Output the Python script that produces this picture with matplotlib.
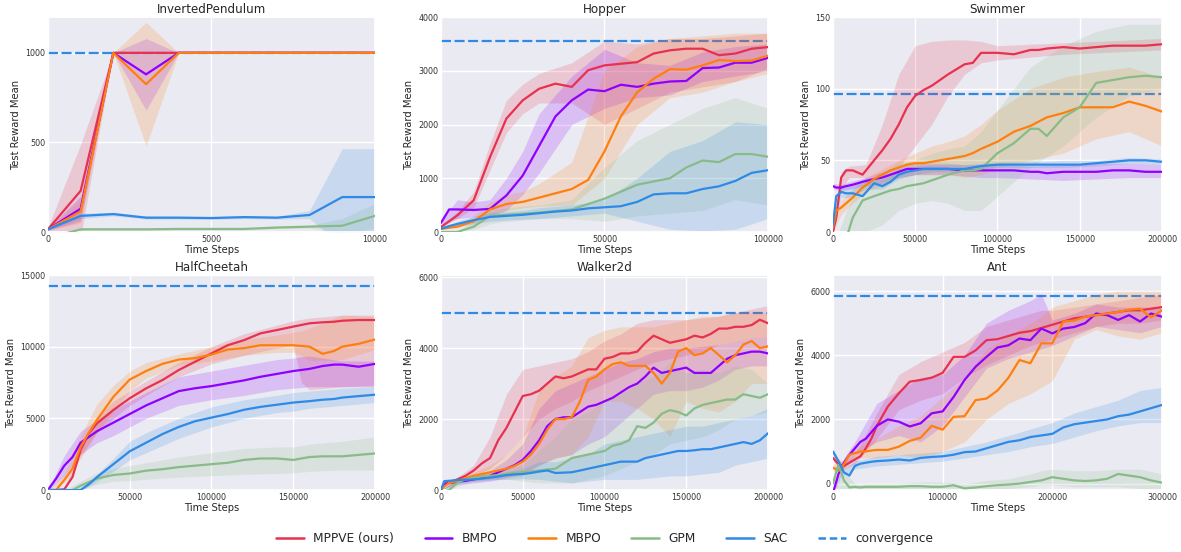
import matplotlib
matplotlib.use("Agg")
import matplotlib.pyplot as plt
import matplotlib.lines as mlines
import seaborn as sns

sns.set_theme(style="darkgrid")
plt.rcParams["font.family"] = ["DejaVu Sans"]

# ---------------------------------------------------------------------------
# Styles
# ---------------------------------------------------------------------------
METHODS = ["MPPVE", "BMPO", "MBPO", "GPM", "SAC"]
LABELS = {"MPPVE": "MPPVE (ours)", "BMPO": "BMPO", "MBPO": "MBPO",
          "GPM": "GPM", "SAC": "SAC"}
COLORS = {"MPPVE": "#E8304F", "BMPO": "#8F00FF", "MBPO": "#FF7F0E",
          "GPM": "#88BB88", "SAC": "#2E8AE6"}
CONV_COLOR = "#2E8AE6"

# ---------------------------------------------------------------------------
# Data: InvertedPendulum
# ---------------------------------------------------------------------------
IP_X = [0, 1000, 2000, 3000, 4000, 5000, 6000, 7000, 8000, 9000, 10000]
IP_MEAN = {
    "MPPVE": [15, 230, 1000, 1000, 1000, 1000, 1000, 1000, 1000, 1000, 1000],
    "BMPO":  [15, 130, 1000, 880, 1000, 1000, 1000, 1000, 1000, 1000, 1000],
    "MBPO":  [15, 115, 1000, 825, 1000, 1000, 1000, 1000, 1000, 1000, 1000],
    "GPM":   [-35, 15, 15, 15, 17, 17, 17, 25, 30, 35, 90],
    "SAC":   [15, 90, 100, 80, 80, 78, 83, 80, 95, 195, 195],
}
IP_LO = {
    "MPPVE": [5, -30, 1000, 1000, 1000, 1000, 1000, 1000, 1000, 1000, 1000],
    "BMPO":  [10, 60, 1000, 680, 1000, 1000, 1000, 1000, 1000, 1000, 1000],
    "MBPO":  [10, 50, 1000, 480, 1000, 1000, 1000, 1000, 1000, 1000, 1000],
    "GPM":   [-45, 10, 10, 10, 12, 12, 12, 18, 22, -5, 20],
    "SAC":   [10, 75, 90, 72, 72, 70, 75, 72, 75, -75, -75],
}
IP_HI = {
    "MPPVE": [25, 490, 1000, 1000, 1000, 1000, 1000, 1000, 1000, 1000, 1000],
    "BMPO":  [20, 200, 1000, 1080, 1000, 1000, 1000, 1000, 1000, 1000, 1000],
    "MBPO":  [20, 180, 1000, 1170, 1000, 1000, 1000, 1000, 1000, 1000, 1000],
    "GPM":   [-25, 20, 20, 20, 22, 22, 22, 32, 38, 75, 160],
    "SAC":   [20, 105, 110, 90, 88, 86, 92, 88, 120, 465, 465],
}

# ---------------------------------------------------------------------------
# Data: Hopper
# ---------------------------------------------------------------------------
HOP_X = [0, 2500, 5000, 10000, 15000, 20000, 25000, 30000, 35000, 40000, 45000,
         50000, 55000, 60000, 65000, 70000, 75000, 80000, 85000, 90000, 95000, 100000]
HOP_MEAN = {
    "MPPVE": [95, 200, 310, 590, 1395, 2110, 2450, 2665, 2760, 2700, 3010,
              3100, 3130, 3160, 3320, 3380, 3410, 3410, 3290, 3320, 3410, 3440],
    "BMPO":  [170, 420, 420, 410, 430, 680, 1050, 1600, 2150, 2450, 2650,
              2620, 2740, 2700, 2760, 2800, 2810, 3050, 3060, 3150, 3150, 3240],
    "MBPO":  [60, 80, 100, 200, 420, 520, 560, 640, 720, 800, 970,
              1500, 2150, 2600, 2850, 3030, 3020, 3100, 3200, 3180, 3190, 3280],
    "GPM":   [0, 0, 0, 100, 300, 320, 340, 360, 390, 420, 520,
              620, 750, 880, 940, 1000, 1200, 1330, 1300, 1450, 1450, 1400],
    "SAC":   [60, 110, 150, 220, 280, 300, 320, 350, 380, 400, 440,
              460, 480, 560, 700, 720, 720, 800, 850, 950, 1100, 1150],
}
HOP_BX = [0, 5000, 10000, 15000, 20000, 25000, 30000, 40000, 50000, 60000,
          70000, 80000, 90000, 100000]
HOP_LO = {
    "MPPVE": [80, 250, 450, 1150, 1850, 2200, 2400, 2400, 2000, 2300, 2600, 2700, 2800, 3050],
    "BMPO":  [150, 250, 280, 300, 400, 700, 1100, 2000, 2300, 2500, 2550, 2800, 2900, 3000],
    "MBPO":  [50, 80, 150, 300, 400, 450, 480, 500, 1000, 2000, 2500, 2600, 2800, 2950],
    "GPM":   [0, 0, 50, 150, 200, 220, 250, 250, 200, 300, 350, 400, 600, 500],
    "SAC":   [50, 100, 150, 200, 220, 240, 250, 300, 350, 200, 50, 20, 50, 250],
}
HOP_HI = {
    "MPPVE": [110, 380, 750, 1650, 2450, 2750, 2950, 3150, 3550, 3500, 3600, 3600, 3650, 3700],
    "BMPO":  [200, 600, 560, 600, 1000, 1500, 2200, 2900, 3400, 3150, 3100, 3350, 3450, 3500],
    "MBPO":  [70, 150, 300, 550, 700, 750, 900, 1300, 3000, 3450, 3600, 3650, 3700, 3700],
    "GPM":   [0, 20, 200, 400, 450, 480, 500, 600, 1200, 1700, 2000, 2300, 2500, 2300],
    "SAC":   [70, 200, 290, 360, 380, 400, 450, 500, 600, 1000, 1500, 1700, 2050, 2000],
}

# ---------------------------------------------------------------------------
# Data: Swimmer
# ---------------------------------------------------------------------------
SW_X = [0, 2000, 5000, 8000, 12000, 18000, 25000, 30000, 35000, 40000, 45000,
        50000, 55000, 60000, 70000, 80000, 85000, 90000, 100000, 110000, 120000,
        125000, 130000, 140000, 150000, 160000, 170000, 180000, 190000, 200000]
SW_MEAN = {
    "MPPVE": [0, 10, 38, 43, 43, 40, 50, 57, 65, 75, 87, 95, 99, 102, 110, 117, 118,
              125, 125, 124, 127, 127, 128, 129, 128, 129, 130, 130, 130, 131],
    "BMPO":  [32, 31, 31, 32, 33, 35, 37, 38, 40, 42, 44, 44, 44, 44, 44, 43, 43,
              43, 43, 43, 42, 42, 41, 42, 42, 42, 43, 43, 42, 42],
    "MBPO":  [3, 15, 17, 20, 24, 31, 37, 40, 43, 45, 47, 48, 48, 49, 51, 53, 55,
              58, 63, 70, 74, 77, 80, 83, 87, 87, 87, 91, 88, 84],
    "GPM":   [-20, -15, -10, -5, 10, 22, 25, 27, 29, 30, 32, 33, 34, 36, 40, 43, 43,
              44, 55, 62, 72, 72, 67, 80, 87, 104, 106, 108, 109, 108],
    "SAC":   [5, 25, 28, 27, 27, 25, 34, 32, 35, 40, 42, 43, 44, 44, 44, 44, 45,
              46, 47, 47, 47, 47, 47, 47, 47, 48, 49, 50, 50, 49],
}
SW_BX = [0, 5000, 10000, 20000, 30000, 40000, 50000, 60000, 70000, 80000,
         90000, 100000, 120000, 140000, 160000, 180000, 200000]
SW_LO = {
    "MPPVE": [0, 30, 38, 38, 40, 45, 60, 75, 95, 110, 118, 120, 122, 124, 125, 126, 127],
    "BMPO":  [30, 29, 30, 32, 34, 38, 40, 40, 40, 39, 38, 38, 37, 36, 37, 38, 38],
    "MBPO":  [0, 12, 18, 28, 33, 38, 40, 40, 40, 38, 40, 45, 50, 55, 65, 70, 60],
    "GPM":   [-30, -30, -20, 0, 5, 15, 20, 22, 20, 15, 15, 25, 45, 60, 80, 95, 100],
    "SAC":   [0, 24, 24, 30, 30, 37, 40, 42, 42, 42, 44, 45, 45, 45, 46, 48, 47],
}
SW_HI = {
    "MPPVE": [2, 42, 46, 47, 75, 110, 130, 133, 134, 134, 133, 130, 131, 132, 133, 134, 135],
    "BMPO":  [34, 33, 35, 38, 42, 46, 48, 48, 48, 47, 47, 47, 46, 47, 48, 48, 47],
    "MBPO":  [6, 22, 28, 38, 44, 50, 55, 60, 63, 67, 75, 85, 100, 108, 112, 115, 108],
    "GPM":   [-10, 5, 20, 35, 42, 48, 50, 55, 58, 60, 70, 85, 115, 130, 140, 145, 145],
    "SAC":   [10, 32, 32, 38, 37, 44, 46, 47, 47, 47, 48, 49, 49, 50, 50, 52, 51],
}

# ---------------------------------------------------------------------------
# Data: HalfCheetah
# ---------------------------------------------------------------------------
HC_X = [0, 5000, 10000, 15000, 20000, 25000, 30000, 40000, 50000, 60000, 70000,
        80000, 90000, 100000, 110000, 120000, 130000, 140000, 150000, 160000,
        168000, 175000, 180000, 190000, 200000]
HC_MEAN = {
    "MPPVE": [0, 0, 50, 900, 2800, 3950, 4650, 5580, 6400, 7090, 7670, 8370, 8950,
              9530, 10100, 10460, 10930, 11160, 11400, 11630, 11700, 11740, 11810, 11860, 11860],
    "BMPO":  [0, 800, 1700, 2300, 3300, 3700, 4100, 4700, 5300, 5900, 6400, 6900, 7100,
              7250, 7450, 7650, 7900, 8100, 8300, 8450, 8650, 8750, 8750, 8600, 8800],
    "MBPO":  [0, 0, 700, 1500, 3000, 4000, 4900, 6500, 7700, 8300, 8800, 9100, 9200,
              9450, 9800, 9900, 10100, 10100, 10100, 10000, 9500, 9700, 10000, 10200, 10500],
    "GPM":   [-100, -80, -50, 0, 300, 550, 800, 1050, 1150, 1350, 1450, 1600, 1700,
              1800, 1900, 2100, 2200, 2200, 2100, 2300, 2350, 2350, 2350, 2450, 2550],
    "SAC":   [0, 0, 0, -20, 0, 400, 900, 1800, 2700, 3300, 3900, 4400, 4800,
              5050, 5300, 5600, 5800, 5950, 6100, 6200, 6300, 6350, 6450, 6550, 6650],
}
HC_BX = [0, 10000, 20000, 30000, 40000, 50000, 60000, 80000, 100000, 120000,
         140000, 150000, 155000, 160000, 180000, 200000]
HC_LO = {
    "MPPVE": [0, 0, 2400, 4000, 5000, 5900, 6600, 7900, 8800, 9400, 9900, 10100, 7500, 7000, 7200, 7300],
    "BMPO":  [0, 1000, 2500, 3300, 3800, 4400, 5000, 5900, 6300, 6600, 7000, 7100, 7150, 7200, 7200, 7200],
    "MBPO":  [0, 500, 2200, 4000, 5500, 6900, 7800, 8700, 9000, 9400, 9600, 9600, 9400, 9000, 9100, 9800],
    "GPM":   [-150, -100, 0, 400, 600, 650, 750, 900, 1000, 1100, 1150, 1200, 1250, 1300, 1400, 1400],
    "SAC":   [-100, -100, -100, 600, 1300, 2100, 2600, 3600, 4400, 5000, 5400, 5500, 5600, 5700, 5900, 6100],
}
HC_HI = {
    "MPPVE": [0, 100, 3200, 5100, 6200, 6900, 7600, 8900, 10000, 10900, 11500, 11800, 11900, 12000, 12200, 12200],
    "BMPO":  [0, 2400, 4100, 4900, 5600, 6200, 6800, 7900, 8300, 8700, 9100, 9200, 9300, 9350, 9000, 9000],
    "MBPO":  [0, 1100, 3800, 6000, 7300, 8300, 8900, 9500, 10000, 10500, 10800, 11000, 11100, 11300, 12200, 12100],
    "GPM":   [-50, 0, 600, 1200, 1500, 1700, 1900, 2300, 2600, 2900, 3000, 3000, 3100, 3200, 3400, 3700],
    "SAC":   [100, 100, 100, 1100, 2200, 3400, 4000, 5000, 5800, 6300, 6600, 6800, 6850, 6900, 7100, 7200],
}

# ---------------------------------------------------------------------------
# Data: Walker2d
# ---------------------------------------------------------------------------
WK_X = [0, 2000, 5000, 10000, 15000, 20000, 25000, 30000, 35000, 40000, 45000,
        50000, 55000, 60000, 65000, 70000, 75000, 80000, 85000, 90000, 95000,
        100000, 105000, 110000, 115000, 120000, 125000, 130000, 135000, 140000,
        145000, 150000, 155000, 160000, 165000, 170000, 175000, 180000, 185000,
        190000, 195000, 200000]
WK_MEAN = {
    "MPPVE": [0, 180, 220, 300, 400, 550, 750, 900, 1400, 1750, 2200, 2650, 2700, 2800,
              3000, 3200, 3150, 3200, 3300, 3400, 3400, 3700, 3750, 3850, 3850, 3900,
              4150, 4350, 4250, 4150, 4200, 4250, 4350, 4300, 4400, 4550, 4550, 4600,
              4600, 4650, 4800, 4700],
    "BMPO":  [0, 150, 200, 230, 260, 300, 350, 400, 500, 600, 700, 850, 1100, 1400,
              1800, 2000, 2050, 2050, 2200, 2350, 2400, 2500, 2600, 2750, 2900, 3000,
              3200, 3450, 3300, 3350, 3400, 3450, 3300, 3300, 3300, 3500, 3700, 3800,
              3850, 3900, 3900, 3850],
    "MBPO":  [0, 100, 200, 250, 330, 400, 450, 500, 550, 600, 680, 800, 1000, 1300,
              1700, 2000, 2000, 2050, 2500, 3100, 3200, 3400, 3550, 3600, 3500, 3500,
              3500, 3300, 3000, 3300, 3900, 4000, 3800, 3850, 4000, 3800, 3600, 3800,
              4100, 4200, 4000, 4050],
    "GPM":   [-50, -50, 0, 200, 300, 350, 380, 400, 420, 450, 480, 500, 520, 550,
              580, 600, 750, 900, 950, 1000, 1050, 1100, 1250, 1300, 1400, 1800,
              1750, 1900, 2150, 2250, 2200, 2100, 2300, 2400, 2450, 2500, 2550, 2550,
              2700, 2650, 2600, 2700],
    "SAC":   [0, 250, 260, 280, 290, 300, 320, 350, 380, 420, 440, 450, 480, 520,
              550, 480, 490, 500, 550, 600, 650, 700, 750, 800, 800, 800, 900, 950,
              1000, 1050, 1100, 1100, 1120, 1150, 1150, 1200, 1250, 1300, 1350, 1300,
              1400, 1600],
}
WK_BX = [0, 10000, 20000, 30000, 40000, 50000, 60000, 70000, 80000, 90000, 100000,
         110000, 120000, 130000, 140000, 150000, 160000, 170000, 180000, 190000, 200000]
WK_LO = {
    "MPPVE": [0, 250, 400, 600, 1000, 1500, 2000, 2300, 2500, 2800, 3000, 3200, 3400, 3600, 3700, 3800, 3900, 4100, 4200, 4300, 4300],
    "BMPO":  [0, 150, 200, 250, 350, 450, 700, 900, 1000, 1300, 1500, 1900, 2300, 2700, 2800, 2800, 2900, 3100, 3400, 3500, 3500],
    "MBPO":  [0, 200, 250, 300, 350, 400, 700, 900, 1000, 1500, 2500, 2500, 2300, 2000, 1500, 2500, 2300, 2200, 2500, 3000, 3000],
    "GPM":   [-100, 100, 250, 300, 300, 250, 200, 200, 200, 300, 400, 600, 800, 1000, 1300, 1400, 1500, 1700, 2000, 2100, 2200],
    "SAC":   [0, 200, 250, 280, 300, 320, 300, 250, 200, 250, 300, 300, 300, 350, 400, 400, 450, 500, 700, 800, 900],
}
WK_HI = {
    "MPPVE": [0, 350, 700, 1500, 2700, 3400, 3500, 3600, 3700, 3900, 4200, 4400, 4700, 4800, 4800, 4800, 4850, 4900, 5000, 5100, 5200],
    "BMPO":  [0, 300, 400, 550, 850, 1300, 2300, 2800, 3000, 3200, 3400, 3600, 3700, 3900, 4000, 4000, 4050, 4100, 4200, 4300, 4300],
    "MBPO":  [0, 300, 500, 700, 1000, 1500, 2800, 3200, 3500, 4300, 4500, 4600, 4600, 4600, 4700, 4800, 4900, 4900, 5000, 5000, 5000],
    "GPM":   [0, 300, 450, 500, 600, 700, 1100, 1500, 2000, 2200, 2500, 2700, 3000, 3200, 3600, 3300, 3400, 3300, 3500, 3400, 3000],
    "SAC":   [0, 350, 380, 420, 520, 600, 800, 800, 900, 1000, 1300, 1400, 1500, 1600, 1700, 1800, 1800, 1900, 2000, 2100, 2300],
}

# ---------------------------------------------------------------------------
# Data: Ant
# ---------------------------------------------------------------------------
ANT_X = [0, 5000, 10000, 15000, 20000, 25000, 30000, 35000, 40000, 50000, 60000,
         70000, 80000, 90000, 100000, 110000, 120000, 130000, 140000, 150000,
         160000, 170000, 180000, 190000, 200000, 210000, 220000, 230000, 240000,
         250000, 260000, 270000, 280000, 290000, 300000]
ANT_MEAN = {
    "MPPVE": [800, 600, 550, 650, 750, 850, 1100, 1400, 1800, 2400, 2810, 3175, 3230,
              3300, 3450, 3950, 3950, 4150, 4470, 4500, 4600, 4700, 4750, 4850, 4950,
              5050, 5150, 5200, 5250, 5300, 5350, 5400, 5400, 5450, 5500],
    "BMPO":  [-300, 300, 650, 900, 1100, 1300, 1400, 1600, 1800, 2000, 1930, 1780, 1880,
              2190, 2250, 2700, 3230, 3640, 3950, 4240, 4310, 4520, 4470, 4830, 4680,
              4830, 4880, 5000, 5300, 5250, 5100, 5250, 5050, 5300, 5200],
    "MBPO":  [500, 400, 600, 900, 950, 1000, 1000, 1030, 1050, 1050, 1150, 1330, 1430,
              1800, 1680, 2080, 2100, 2600, 2650, 2900, 3300, 3850, 3750, 4370, 4370,
              5050, 5080, 5200, 5250, 5300, 5350, 5420, 5450, 5180, 5400],
    "GPM":   [0, 600, 100, -120, -100, -120, -100, -100, -100, -100, -100, -80, -80,
              -100, -100, -50, -150, -120, -80, -50, -30, 0, 50, 100, 200, 150, 100,
              80, 100, 150, 300, 250, 200, 100, 30],
    "SAC":   [1000, 700, 350, 250, 550, 620, 650, 680, 700, 720, 750, 720, 800, 830,
              850, 900, 980, 1000, 1100, 1200, 1300, 1350, 1450, 1500, 1550, 1750,
              1850, 1900, 1950, 2000, 2100, 2150, 2250, 2350, 2450],
}
ANT_BX = [0, 10000, 20000, 40000, 60000, 80000, 100000, 120000, 140000, 160000,
          180000, 190000, 200000, 220000, 240000, 260000, 280000, 300000]
ANT_LO = {
    "MPPVE": [700, 450, 600, 1400, 2300, 2600, 2800, 3300, 3700, 4000, 4300, 4400, 4500, 4700, 4900, 5000, 5000, 5100],
    "BMPO":  [-400, 500, 900, 1300, 1500, 1300, 1800, 2700, 3600, 3900, 4100, 4200, 4300, 4600, 4900, 4800, 4700, 4900],
    "MBPO":  [400, 450, 800, 800, 900, 800, 1000, 1300, 2000, 2500, 2800, 3000, 3200, 4500, 4800, 4600, 4500, 4700],
    "GPM":   [-100, -200, -200, -200, -200, -200, -200, -250, -200, -150, -100, -50, -50, -100, -100, -100, -150, -200],
    "SAC":   [900, 250, 450, 550, 600, 650, 700, 800, 900, 1000, 1150, 1200, 1250, 1450, 1650, 1800, 1900, 1900],
}
ANT_HI = {
    "MPPVE": [900, 650, 900, 2200, 3400, 3800, 4100, 4400, 4900, 5100, 5300, 5400, 5400, 5500, 5600, 5700, 5800, 5900],
    "BMPO":  [-200, 800, 1300, 2500, 2900, 3300, 3400, 4000, 5000, 5400, 5700, 5900, 5100, 5300, 5600, 5500, 5500, 5500],
    "MBPO":  [600, 750, 1100, 1400, 1800, 2100, 2700, 3300, 4200, 4600, 5000, 5200, 5500, 5700, 5900, 6000, 6000, 6000],
    "GPM":   [100, 400, 0, 0, 0, 50, 50, 0, 100, 150, 300, 400, 450, 400, 400, 450, 450, 300],
    "SAC":   [1100, 450, 700, 850, 900, 950, 1000, 1150, 1300, 1500, 1700, 1800, 1900, 2200, 2400, 2600, 2900, 3000],
}

# convergence levels
CONVERGENCE = {"InvertedPendulum": 1000, "Hopper": 3550, "Swimmer": 96,
               "HalfCheetah": 14200, "Walker2d": 5000, "Ant": 5860}

# ---------------------------------------------------------------------------
# Figure
# ---------------------------------------------------------------------------
fig = plt.figure(figsize=(11.81, 5.52), dpi=100)

W1, W3, H = 0.2769, 0.2786, 0.3895
PANELS = [
    # title, rect, x, mean, bx, lo, hi, xmax, ylim, xticks, yticks
    ("InvertedPendulum", [0.0406, 0.5797, W1, H], IP_X, IP_MEAN, IP_X, IP_LO, IP_HI,
     10000, (0, 1200), [0, 5000, 10000], [0, 500, 1000]),
    ("Hopper", [0.3734, 0.5797, W1, H], HOP_X, HOP_MEAN, HOP_BX, HOP_LO, HOP_HI,
     100000, (0, 4000), [0, 50000, 100000], [0, 1000, 2000, 3000, 4000]),
    ("Swimmer", [0.7053, 0.5797, W3, H], SW_X, SW_MEAN, SW_BX, SW_LO, SW_HI,
     200000, (0, 150), [0, 50000, 100000, 150000, 200000], [0, 50, 100, 150]),
    ("HalfCheetah", [0.0406, 0.1123, W1, H], HC_X, HC_MEAN, HC_BX, HC_LO, HC_HI,
     200000, (0, 15000), [0, 50000, 100000, 150000, 200000], [0, 5000, 10000, 15000]),
    ("Walker2d", [0.3734, 0.1123, W1, H], WK_X, WK_MEAN, WK_BX, WK_LO, WK_HI,
     200000, (0, 6060), [0, 50000, 100000, 150000, 200000], [0, 2000, 4000, 6000]),
    ("Ant", [0.7053, 0.1123, W3, H], ANT_X, ANT_MEAN, ANT_BX, ANT_LO, ANT_HI,
     300000, (-200, 6500), [0, 100000, 200000, 300000], [0, 2000, 4000, 6000]),
]

for title, rect, x, mean, bx, lo, hi, xmax, ylim, xticks, yticks in PANELS:
    ax = fig.add_axes(rect)
    ax.axhline(CONVERGENCE[title], color=CONV_COLOR, lw=1.6,
               linestyle=(0, (4.5, 1.6)), zorder=1)
    for m in METHODS:
        ax.fill_between(bx, lo[m], hi[m], color=COLORS[m], alpha=0.18,
                        linewidth=0, zorder=2)
    for m in METHODS:
        ax.plot(x, mean[m], color=COLORS[m], lw=1.6, zorder=3)
    ax.set_xlim(0, xmax)
    ax.set_ylim(*ylim)
    ax.set_xticks(xticks)
    ax.set_yticks(yticks)
    ax.set_xticklabels([str(t) for t in xticks])
    ax.set_yticklabels([str(t) for t in yticks])
    ax.tick_params(labelsize=5.8, pad=2, length=0, colors="#333333")
    ax.set_title(title, fontsize=8.6, pad=3, color="#262626")
    ax.set_xlabel("Time Steps", fontsize=7.2, labelpad=1, color="#262626")
    ax.set_ylabel("Test Reward Mean", fontsize=7.2, labelpad=3, color="#262626")
    ax.grid(True, color="white", linewidth=1.0)

# ---------------------------------------------------------------------------
# Legend
# ---------------------------------------------------------------------------
handles = [mlines.Line2D([], [], color=COLORS[m], lw=1.8, label=LABELS[m])
           for m in METHODS]
handles.append(mlines.Line2D([], [], color=CONV_COLOR, lw=1.8,
                             linestyle=(0, (3, 1.5)), label="convergence"))
fig.legend(handles=handles, loc="center", bbox_to_anchor=(0.512, 0.024),
           ncol=6, frameon=False, fontsize=8.7, handlelength=2.3,
           columnspacing=2.5, handletextpad=0.8)

fig.savefig("out.png", dpi=100)
